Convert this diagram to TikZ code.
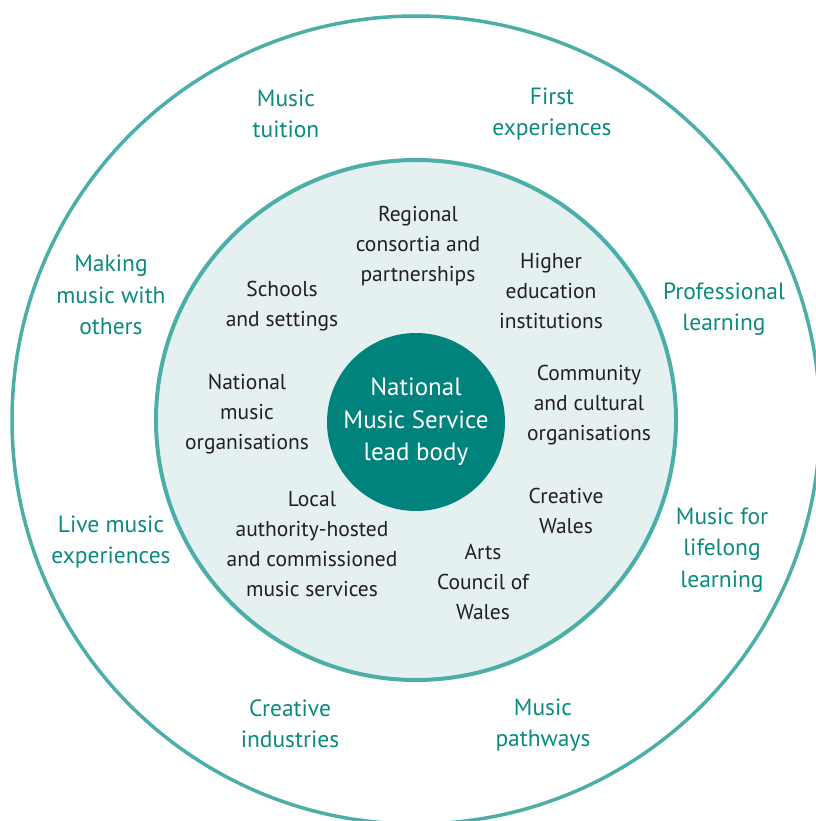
\documentclass[tikz,border=0pt]{standalone}
\usepackage{fontspec}
\setmainfont{PT Sans}
\usepackage{tikz}
\definecolor{ringteal}{RGB}{75,174,167}
\definecolor{paleteal}{RGB}{229,241,241}
\definecolor{coreteal}{RGB}{0,130,125}
\definecolor{outerteal}{RGB}{10,138,128}
\definecolor{darktext}{RGB}{35,31,32}

\begin{document}
\begin{tikzpicture}[x=1pt, y=-1pt,
    outerlabel/.style={align=center, text=outerteal, font=\fontsize{23.5}{31.5}\selectfont, yshift=-2pt},
    innerlabel/.style={align=center, text=darktext, font=\fontsize{21.5}{30}\selectfont, yshift=-1.5pt}]
    \useasboundingbox (0,0) rectangle (815,821);
    % rings
    \draw[ringteal, line width=3.5pt] (416,420) circle[radius=404];
    \draw[ringteal, line width=4pt, fill=paleteal] (416,420) circle[radius=260];
    \node[circle, fill=coreteal, minimum size=178pt, inner sep=0pt, align=center,
          text=white, font=\fontsize{25}{32.5}\selectfont, yshift=-2pt] (lead) at (416,420)
          {National\\Music Service\\lead body};

    % outer ring
    \node[outerlabel] (tuition) at (286,112) {Music\\tuition};
    \node[outerlabel] (first) at (552,112) {First\\experiences};
    \node[outerlabel] (making) at (111,293) {Making\\music with\\others};
    \node[outerlabel] (profl) at (724,307) {Professional\\learning};
    \node[outerlabel] (live) at (111,540) {Live music\\experiences};
    \node[outerlabel] (lifelong) at (722,548) {Music for\\lifelong\\learning};
    \node[outerlabel] (industries) at (290,722) {Creative\\industries};
    \node[outerlabel] (pathways) at (543,723) {Music\\pathways};

    % inner ring
    \node[innerlabel] (consortia) at (418,245) {Regional\\consortia and\\partnerships};
    \node[innerlabel] (higher) at (551,290) {Higher\\education\\institutions};
    \node[innerlabel] (schools) at (282,305) {Schools\\and settings};
    \node[innerlabel] (natorgs) at (247,413) {National\\music\\organisations};
    \node[innerlabel] (community) at (589,404) {Community\\and cultural\\organisations};
    \node[innerlabel] (cwales) at (566,509) {Creative\\Wales};
    \node[innerlabel] (local) at (312,543) {Local\\authority-hosted\\and commissioned\\music services};
    \node[innerlabel] (arts) at (483,580) {Arts\\Council of\\Wales};
\end{tikzpicture}
\end{document}
